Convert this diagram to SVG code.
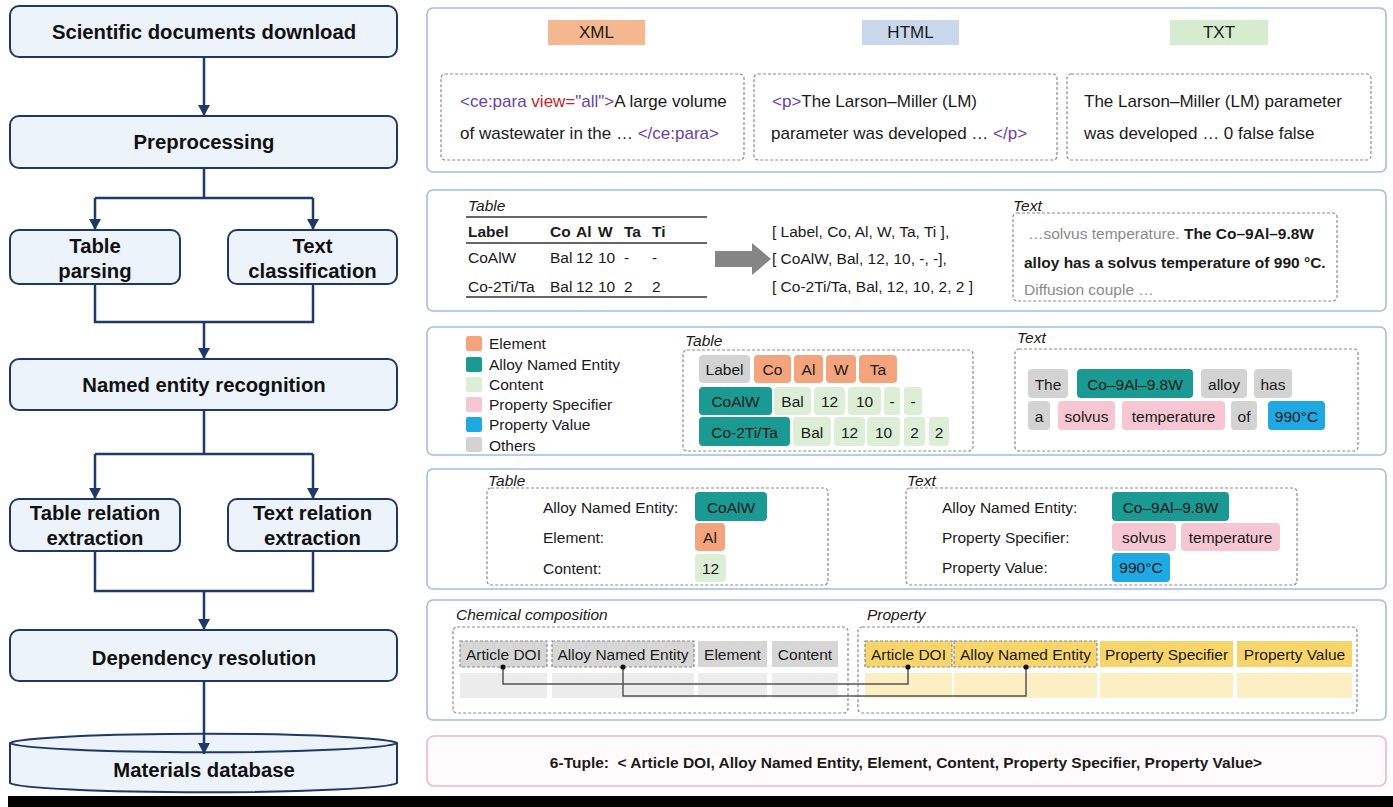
<svg xmlns="http://www.w3.org/2000/svg" width="1393" height="807" viewBox="0 0 1393 807">
  <defs>
    <marker id="ah" markerUnits="userSpaceOnUse" viewBox="0 0 11 12" markerWidth="11" markerHeight="12" refX="11" refY="6" orient="auto">
      <path d="M0,0 L11,6 L0,12 z" fill="#1f3a68"/>
    </marker>
    <style>
      text { font-family: "Liberation Sans", Arial, sans-serif; fill: #1a1a1a; dominant-baseline: central; }
      .step { fill: #edf3fb; stroke: #1f3864; stroke-width: 2; }
      .stepT { font-size: 20.3px; font-weight: bold; text-anchor: middle; fill: #111; }
      .flow { fill: none; stroke: #1f3a68; stroke-width: 2.5; }
      .panel { fill: #fff; stroke: #a3bde0; stroke-width: 1.6; }
      .dash { fill: none; stroke: #8a8a8a; stroke-width: 1.2; stroke-dasharray: 3 2; }
      .t17 { font-size: 17px; }
      .t15 { font-size: 15.5px; }
      .it { font-size: 15.5px; font-style: italic; }
      .b { font-weight: bold; }
      .mid { text-anchor: middle; }
      .tag { fill: #6b3fa6; }
      .attr { fill: #c0282d; }
      .grey { fill: #8a8a8a; }
      .rule { stroke: #333; stroke-width: 1.5; }
      .el { fill: #f3a47c; }
      .ane { fill: #1b9a93; }
      .ct { fill: #dcefd6; }
      .ps { fill: #f6c7d2; }
      .pv { fill: #1fa9e3; }
      .ot { fill: #d3d3d3; }
      .hg { fill: #d6d6d6; }
      .dg { fill: #ececec; }
      .hy { fill: #f8d56b; }
      .dy { fill: #fcefc4; }
      .link { fill: none; stroke: #555; stroke-width: 1.5; }
    </style>
  </defs>

  <rect x="0" y="0" width="1393" height="807" fill="#fff"/>

  <!-- pipeline steps -->
  <g id="step-download">
    <rect class="step" x="10" y="6" width="387" height="51" rx="9"/>
    <text class="stepT" x="204" y="31.5">Scientific documents download</text>
  </g>
  <g id="step-preprocessing">
    <rect class="step" x="10" y="116" width="387" height="52" rx="9"/>
    <text class="stepT" x="204" y="142">Preprocessing</text>
  </g>
  <g id="step-table-parsing">
    <rect class="step" x="10" y="230" width="170" height="54" rx="9"/>
    <text class="stepT" x="95" y="246">Table</text>
    <text class="stepT" x="95" y="271">parsing</text>
  </g>
  <g id="step-text-classification">
    <rect class="step" x="228" y="230" width="169" height="54" rx="9"/>
    <text class="stepT" x="312.5" y="246">Text</text>
    <text class="stepT" x="312.5" y="271">classification</text>
  </g>
  <g id="step-ner">
    <rect class="step" x="10" y="359" width="387" height="51" rx="9"/>
    <text class="stepT" x="204" y="385">Named entity recognition</text>
  </g>
  <g id="step-table-relation">
    <rect class="step" x="10" y="499" width="170" height="52" rx="9"/>
    <text class="stepT" x="95" y="513">Table relation</text>
    <text class="stepT" x="95" y="538">extraction</text>
  </g>
  <g id="step-text-relation">
    <rect class="step" x="228" y="499" width="169" height="52" rx="9"/>
    <text class="stepT" x="312.5" y="513">Text relation</text>
    <text class="stepT" x="312.5" y="538">extraction</text>
  </g>
  <g id="step-dependency">
    <rect class="step" x="10" y="630" width="387" height="51" rx="9"/>
    <text class="stepT" x="204" y="658">Dependency resolution</text>
  </g>
  <g id="step-database">
    <path class="step" d="M10,743 A194,10 0 0 1 397,743 V783 A194,10 0 0 1 10,783 Z"/>
    <path class="step" d="M10,743 A194,10 0 0 0 397,743" fill="none"/>
    <text class="stepT" x="204" y="770">Materials database</text>
  </g>

  <!-- pipeline connectors -->
  <g id="connectors">
    <path class="flow" d="M204,57 V116" marker-end="url(#ah)"/>
    <path class="flow" d="M204,168 V198 M95,198 H313"/>
    <path class="flow" d="M95,198 V230" marker-end="url(#ah)"/>
    <path class="flow" d="M313,198 V230" marker-end="url(#ah)"/>
    <path class="flow" d="M95,284 V322 H313 V284"/>
    <path class="flow" d="M204,322 V359" marker-end="url(#ah)"/>
    <path class="flow" d="M204,410 V454 M95,454 H313"/>
    <path class="flow" d="M95,454 V499" marker-end="url(#ah)"/>
    <path class="flow" d="M313,454 V499" marker-end="url(#ah)"/>
    <path class="flow" d="M95,551 V591 H313 V551"/>
    <path class="flow" d="M204,591 V630" marker-end="url(#ah)"/>
    <path class="flow" d="M204,681 V754" marker-end="url(#ah)"/>
  </g>

  <!-- document formats -->
  <g id="panel-formats">
    <rect class="panel" x="427" y="8" width="959" height="164" rx="6"/>
    <rect x="548" y="20" width="97" height="25" fill="#f5b78f"/>
    <text class="t17 mid" x="596.5" y="32.5">XML</text>
    <rect x="862" y="20" width="97" height="25" fill="#c8d7ec"/>
    <text class="t17 mid" x="910.5" y="32.5">HTML</text>
    <rect x="1170" y="20" width="98" height="25" fill="#d5ecce"/>
    <text class="t17 mid" x="1219" y="32.5">TXT</text>

    <rect class="dash" x="441" y="74" width="303" height="86" rx="4"/>
    <text class="t17" x="460" y="101"><tspan class="tag">&lt;ce:para </tspan><tspan class="attr">view=</tspan><tspan class="tag">"all"&gt;</tspan>A large volume</text>
    <text class="t17" x="460" y="133">of wastewater in the … <tspan class="tag">&lt;/ce:para&gt;</tspan></text>

    <rect class="dash" x="754" y="74" width="303" height="86" rx="4"/>
    <text class="t17" x="772" y="101"><tspan class="tag">&lt;p&gt;</tspan>The Larson–Miller (LM)</text>
    <text class="t17" x="771" y="133">parameter was developed … <tspan class="tag">&lt;/p&gt;</tspan></text>

    <rect class="dash" x="1067" y="74" width="304" height="86" rx="4"/>
    <text class="t17" x="1084" y="101">The Larson–Miller (LM) parameter</text>
    <text class="t17" x="1084" y="133">was developed … 0 false false</text>
  </g>

  <!-- parsing and classification -->
  <g id="panel-parsing">
    <rect class="panel" x="427" y="190" width="959" height="121" rx="6"/>
    <text class="it" x="468" y="205">Table</text>
    <line class="rule" x1="466" y1="217" x2="707" y2="217"/>
    <line class="rule" x1="466" y1="243" x2="707" y2="243"/>
    <line class="rule" x1="466" y1="297" x2="707" y2="297"/>
    <text class="t15 b" x="468" y="231">Label</text>
    <text class="t15 b" x="550" y="231">Co</text>
    <text class="t15 b" x="576" y="231">Al</text>
    <text class="t15 b" x="598" y="231">W</text>
    <text class="t15 b" x="624" y="231">Ta</text>
    <text class="t15 b" x="652" y="231">Ti</text>
    <text class="t15" x="468" y="257">CoAlW</text>
    <text class="t15" x="550" y="257">Bal</text>
    <text class="t15" x="576" y="257">12</text>
    <text class="t15" x="598" y="257">10</text>
    <text class="t15" x="624" y="257">-</text>
    <text class="t15" x="652" y="257">-</text>
    <text class="t15" x="468" y="286">Co-2Ti/Ta</text>
    <text class="t15" x="550" y="286">Bal</text>
    <text class="t15" x="576" y="286">12</text>
    <text class="t15" x="598" y="286">10</text>
    <text class="t15" x="624" y="286">2</text>
    <text class="t15" x="652" y="286">2</text>

    <path d="M715,251 H752 V243 L771,259 L752,275 V267 H715 Z" fill="#858585"/>

    <text class="t15" x="772" y="231">[ Label, Co, Al, W, Ta, Ti ],</text>
    <text class="t15" x="772" y="258">[ CoAlW, Bal, 12, 10, -, -],</text>
    <text class="t15" x="772" y="286">[ Co-2Ti/Ta, Bal, 12, 10, 2, 2 ]</text>

    <text class="it" x="1013" y="205">Text</text>
    <rect class="dash" x="1013" y="213" width="324" height="88" rx="4"/>
    <text class="t15" x="1028" y="233"><tspan class="grey">…solvus temperature. </tspan><tspan class="b">The Co–9Al–9.8W</tspan></text>
    <text class="t15 b" x="1024" y="262">alloy has a solvus temperature of 990 °C.</text>
    <text class="t15 grey" x="1024" y="289">Diffusion couple …</text>
  </g>

  <!-- entity tagging -->
  <g id="panel-ner">
    <rect class="panel" x="427" y="327" width="959" height="128" rx="6"/>
    <rect class="el" x="466" y="336" width="16" height="15" rx="2"/>
    <text class="t15" x="489" y="343">Element</text>
    <rect class="ane" x="466" y="357" width="16" height="15" rx="2"/>
    <text class="t15" x="489" y="364">Alloy Named Entity</text>
    <rect class="ct" x="466" y="377" width="16" height="15" rx="2"/>
    <text class="t15" x="489" y="384">Content</text>
    <rect class="ps" x="466" y="397" width="16" height="15" rx="2"/>
    <text class="t15" x="489" y="404">Property Specifier</text>
    <rect class="pv" x="466" y="417" width="16" height="15" rx="2"/>
    <text class="t15" x="489" y="424">Property Value</text>
    <rect class="ot" x="466" y="437" width="16" height="15" rx="2"/>
    <text class="t15" x="489" y="445">Others</text>

    <text class="it" x="685" y="340">Table</text>
    <rect class="dash" x="683" y="350" width="290" height="101" rx="4"/>
    <rect class="ot" x="699" y="355" width="51" height="28" rx="4"/>
    <text class="t15 mid" x="724.5" y="369">Label</text>
    <rect class="el" x="754" y="355" width="37" height="28" rx="4"/>
    <text class="t15 mid" x="772.5" y="369">Co</text>
    <rect class="el" x="794" y="355" width="29" height="28" rx="4"/>
    <text class="t15 mid" x="808.5" y="369">Al</text>
    <rect class="el" x="826" y="355" width="30" height="28" rx="4"/>
    <text class="t15 mid" x="841" y="369">W</text>
    <rect class="el" x="859" y="355" width="38" height="28" rx="4"/>
    <text class="t15 mid" x="878" y="369">Ta</text>

    <rect class="ane" x="699" y="387" width="73" height="28" rx="4"/>
    <text class="t15 mid" x="735.5" y="401">CoAlW</text>
    <rect class="ct" x="774" y="387" width="37" height="28" rx="4"/>
    <text class="t15 mid" x="792.5" y="401">Bal</text>
    <rect class="ct" x="814" y="387" width="31" height="28" rx="4"/>
    <text class="t15 mid" x="829.5" y="401">12</text>
    <rect class="ct" x="848" y="387" width="33" height="28" rx="4"/>
    <text class="t15 mid" x="864.5" y="401">10</text>
    <rect class="ct" x="884" y="387" width="16" height="28" rx="3"/>
    <text class="t15 mid" x="892" y="401">-</text>
    <rect class="ct" x="904" y="387" width="18" height="28" rx="3"/>
    <text class="t15 mid" x="913" y="401">-</text>

    <rect class="ane" x="699" y="417" width="91" height="29" rx="4"/>
    <text class="t15 mid" x="744.5" y="432">Co-2Ti/Ta</text>
    <rect class="ct" x="793" y="417" width="38" height="29" rx="4"/>
    <text class="t15 mid" x="812" y="432">Bal</text>
    <rect class="ct" x="834" y="417" width="31" height="29" rx="4"/>
    <text class="t15 mid" x="849.5" y="432">12</text>
    <rect class="ct" x="867" y="417" width="33" height="29" rx="4"/>
    <text class="t15 mid" x="883.5" y="432">10</text>
    <rect class="ct" x="904" y="417" width="21" height="29" rx="3"/>
    <text class="t15 mid" x="914.5" y="432">2</text>
    <rect class="ct" x="929" y="417" width="20" height="29" rx="3"/>
    <text class="t15 mid" x="939" y="432">2</text>

    <text class="it" x="1017" y="337">Text</text>
    <rect class="dash" x="1015" y="349" width="343" height="102" rx="4"/>
    <rect class="ot" x="1028" y="369" width="40" height="29" rx="4"/>
    <text class="t15 mid" x="1048" y="384">The</text>
    <rect class="ane" x="1077" y="369" width="116" height="29" rx="4"/>
    <text class="t15 mid" x="1135" y="384">Co–9Al–9.8W</text>
    <rect class="ot" x="1201" y="369" width="46" height="29" rx="4"/>
    <text class="t15 mid" x="1224" y="384">alloy</text>
    <rect class="ot" x="1254" y="369" width="38" height="29" rx="4"/>
    <text class="t15 mid" x="1273" y="384">has</text>
    <rect class="ot" x="1028" y="401" width="22" height="29" rx="4"/>
    <text class="t15 mid" x="1039" y="416">a</text>
    <rect class="ps" x="1058" y="401" width="57" height="29" rx="4"/>
    <text class="t15 mid" x="1086.5" y="416">solvus</text>
    <rect class="ps" x="1122" y="401" width="103" height="29" rx="4"/>
    <text class="t15 mid" x="1173.5" y="416">temperature</text>
    <rect class="ot" x="1231" y="401" width="26" height="29" rx="4"/>
    <text class="t15 mid" x="1244" y="416">of</text>
    <rect class="pv" x="1268" y="401" width="57" height="29" rx="4"/>
    <text class="t15 mid" x="1296.5" y="416">990°C</text>
  </g>

  <!-- relation extraction -->
  <g id="panel-relations">
    <rect class="panel" x="427" y="469" width="959" height="120" rx="6"/>
    <text class="it" x="488" y="480">Table</text>
    <rect class="dash" x="487" y="488" width="341" height="97" rx="4"/>
    <text class="t15" x="543" y="507">Alloy Named Entity:</text>
    <text class="t15" x="543" y="537">Element:</text>
    <text class="t15" x="543" y="568">Content:</text>
    <rect class="ane" x="695" y="492" width="72" height="29" rx="4"/>
    <text class="t15 mid" x="731" y="507">CoAlW</text>
    <rect class="el" x="695" y="523" width="30" height="28" rx="4"/>
    <text class="t15 mid" x="710" y="537">Al</text>
    <rect class="ct" x="695" y="554" width="31" height="28" rx="4"/>
    <text class="t15 mid" x="710.5" y="568">12</text>

    <text class="it" x="907" y="480">Text</text>
    <rect class="dash" x="906" y="488" width="391" height="97" rx="4"/>
    <text class="t15" x="942" y="507">Alloy Named Entity:</text>
    <text class="t15" x="942" y="537">Property Specifier:</text>
    <text class="t15" x="942" y="567">Property Value:</text>
    <rect class="ane" x="1112" y="492" width="117" height="29" rx="4"/>
    <text class="t15 mid" x="1170.5" y="507">Co–9Al–9.8W</text>
    <rect class="ps" x="1112" y="523" width="64" height="28" rx="4"/>
    <text class="t15 mid" x="1144" y="537">solvus</text>
    <rect class="ps" x="1181" y="523" width="99" height="28" rx="4"/>
    <text class="t15 mid" x="1230.5" y="537">temperature</text>
    <rect class="pv" x="1112" y="553" width="58" height="29" rx="4"/>
    <text class="t15 mid" x="1141" y="567">990°C</text>
  </g>

  <!-- dependency resolution tables -->
  <g id="panel-dependency">
    <rect class="panel" x="427" y="600" width="959" height="120" rx="6"/>
    <text class="it" x="456" y="614">Chemical composition</text>
    <rect class="dash" x="453" y="627" width="395" height="86" rx="4"/>
    <rect class="hg" x="460" y="641" width="87" height="26"/>
    <rect class="dash" x="460" y="641" width="87" height="26"/>
    <text class="t15 mid" x="503.5" y="654">Article DOI</text>
    <rect class="hg" x="552" y="641" width="142" height="26"/>
    <rect class="dash" x="552" y="641" width="142" height="26"/>
    <text class="t15 mid" x="623" y="654">Alloy Named Entity</text>
    <rect class="hg" x="698" y="641" width="69" height="26"/>
    <text class="t15 mid" x="732.5" y="654">Element</text>
    <rect class="hg" x="772" y="641" width="66" height="26"/>
    <text class="t15 mid" x="805" y="654">Content</text>
    <rect class="dg" x="460" y="673" width="87" height="25"/>
    <rect class="dg" x="552" y="673" width="142" height="25"/>
    <rect class="dg" x="698" y="673" width="69" height="25"/>
    <rect class="dg" x="772" y="673" width="66" height="25"/>

    <text class="it" x="867" y="614">Property</text>
    <rect class="dash" x="858" y="627" width="499" height="86" rx="4"/>
    <rect class="hy" x="865" y="641" width="87" height="26"/>
    <rect class="dash" x="865" y="641" width="87" height="26"/>
    <text class="t15 mid" x="908.5" y="654">Article DOI</text>
    <rect class="hy" x="954" y="641" width="143" height="26"/>
    <rect class="dash" x="954" y="641" width="143" height="26"/>
    <text class="t15 mid" x="1025.5" y="654">Alloy Named Entity</text>
    <rect class="hy" x="1100" y="641" width="133" height="26"/>
    <text class="t15 mid" x="1166.5" y="654">Property Specifier</text>
    <rect class="hy" x="1237" y="641" width="115" height="26"/>
    <text class="t15 mid" x="1294.5" y="654">Property Value</text>
    <rect class="dy" x="865" y="673" width="87" height="25"/>
    <rect class="dy" x="954" y="673" width="143" height="25"/>
    <rect class="dy" x="1100" y="673" width="133" height="25"/>
    <rect class="dy" x="1237" y="673" width="115" height="25"/>
  </g>

  <!-- key links between the two tables -->
  <g id="key-links">
    <path class="link" d="M503,667 V684 H908 V667"/>
    <path class="link" d="M623,667 V696 H1026 V667"/>
    <circle cx="503" cy="667" r="2.6" fill="#111"/>
    <circle cx="908" cy="667" r="2.6" fill="#111"/>
    <circle cx="623" cy="667" r="2.6" fill="#111"/>
    <circle cx="1026" cy="667" r="2.6" fill="#111"/>
  </g>

  <!-- output tuple -->
  <g id="panel-tuple">
    <rect x="427" y="736" width="959" height="50" rx="7" fill="#fffafb" stroke="#f0b6c4" stroke-width="1.6"/>
    <text class="t15 b mid" x="906" y="762">6-Tuple:&#160; &lt; Article DOI, Alloy Named Entity, Element, Content, Property Specifier, Property Value&gt;</text>
  </g>

  <rect x="8" y="796" width="1385" height="11" fill="#000"/>
</svg>
